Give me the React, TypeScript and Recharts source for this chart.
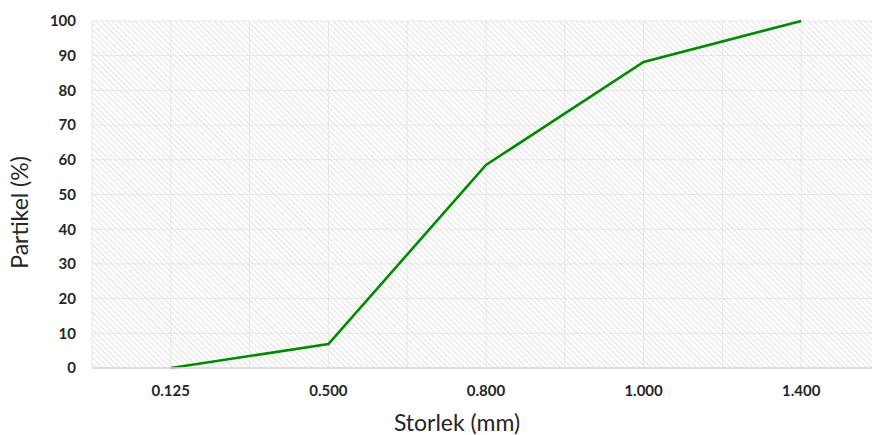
import React from 'react';
import { LineChart, Line, XAxis, YAxis, CartesianGrid } from 'recharts';

const sizes = ['0.125', '0.500', '0.800', '1.000', '1.400'];
const particles = [0, 6.9, 58.5, 88.2, 100];
const yTicks = [0, 10, 20, 30, 40, 50, 60, 70, 80, 90, 100];

const data = sizes.map((s, i) => ({ size: s, value: particles[i] }));

const FONT = 'Lato, "Open Sans", sans-serif';

const YTitle = (props: any) => {
  const vb = props.viewBox || {};
  const cx = 19;
  const cy = vb.y + vb.height / 2 + 18;
  return (
    <text x={cx} y={cy} transform={`rotate(-90 ${cx} ${cy})`} textAnchor="middle" dominantBaseline="central"
      fontFamily={FONT} fontSize={23} fill="#262626">Partikel (%)</text>
  );
};

const XTitle = (props: any) => {
  const vb = props.viewBox || {};
  return (
    <text x={457} y={vb.y + 54} textAnchor="middle" dominantBaseline="central"
      fontFamily={FONT} fontSize={23} fill="#262626">Storlek (mm)</text>
  );
};

export default function App() {
  const W = 880;
  const H = 435;
  const margin = { top: 21, right: 0, bottom: 37, left: 0 };
  const yAxisW = 92;
  const vGen = ({ offset }: any) => {
    const left = offset.left;
    const w = offset.width;
    const step = w / sizes.length / 2;
    const pts: number[] = [];
    for (let i = 0; i <= sizes.length * 2; i++) pts.push(left + i * step);
    return pts;
  };
  return (
    <div style={{ position: 'absolute', left: 0, top: 0, width: 872, height: 435, overflow: 'hidden', background: '#fff' }}>
      <svg width={0} height={0} style={{ position: 'absolute' }}>
        <defs>
          <pattern id="hatch" patternUnits="userSpaceOnUse" width={4} height={4} patternTransform="rotate(-45)">
            <rect width={4} height={4} fill="#ffffff" />
            <line x1={0} y1={0} x2={0} y2={4} stroke="#d9d9d9" strokeWidth={1.5} />
          </pattern>
        </defs>
      </svg>
      <LineChart width={W} height={H} data={data} margin={margin}>
        <CartesianGrid fill="url(#hatch)" fillOpacity={1} stroke="#e6e6e6" strokeWidth={1}
          verticalCoordinatesGenerator={vGen} />
        <XAxis dataKey="size" scale="band" axisLine={{ stroke: '#d9d9d9', strokeWidth: 1.5 }} tickLine={false} tickSize={0}
          tickMargin={17} tick={{ fontFamily: FONT, fontSize: 15, fontWeight: 700, fill: '#262626' }}
          interval={0} label={<XTitle />} />
        <YAxis width={yAxisW} domain={[0, 100]} ticks={yTicks} axisLine={false} tickLine={false} tickSize={0}
          tickMargin={16} tick={{ fontFamily: FONT, fontSize: 15, fontWeight: 700, fill: '#262626' }}
          label={<YTitle />} />
        <Line type="linear" dataKey="value" stroke="#008a00" strokeWidth={2.6} dot={false} isAnimationActive={false} />
      </LineChart>
    </div>
  );
}
